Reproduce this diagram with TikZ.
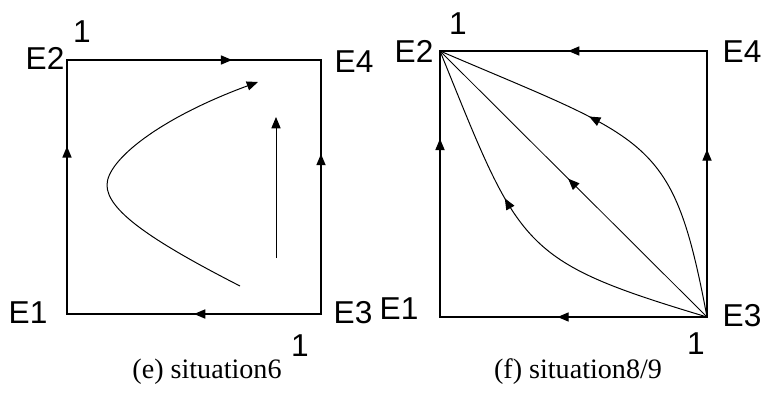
\documentclass[tikz,border=0pt]{standalone}
\usepackage{fontspec}
\setmainfont{Liberation Serif}
\newfontfamily\labelfont{Liberation Sans}
\usetikzlibrary{arrows.meta,decorations.markings}
\tikzset{
	edge/.style={line width=0.9pt, line cap=rect},
	flow/.style={line width=0.7pt},
	midarrow/.style={postaction={decorate}, decoration={markings, mark=at position #1 with {\arrow{Triangle[length=8pt,width=6.5pt]}}}},
	corner/.style={font=\labelfont\fontsize{22.5}{26}\selectfont, inner sep=0pt},
	caption/.style={font=\fontsize{20}{24}\selectfont, inner sep=0pt}
}
\begin{document}
\begin{tikzpicture}[x=0.025cm, y=-0.025cm]
	\useasboundingbox (0,0) rectangle (762,394);
	% (e) situation6
	\coordinate (a1) at (67,314);
	\coordinate (a2) at (67,60);
	\coordinate (a3) at (321,314);
	\coordinate (a4) at (321,60);
	\draw[edge, midarrow=0.66] (a1) -- (a2);
	\draw[edge, midarrow=0.65] (a2) -- (a4);
	\draw[edge, midarrow=0.63] (a3) -- (a4);
	\draw[edge, midarrow=0.5] (a3) -- (a1);
	\coordinate (hstart) at (240,286);
	\coordinate (hvertex) at (107,185);
	\coordinate (hend) at (258,82);
	\draw[flow, -{Triangle[length=8pt,width=6.5pt]}] (hstart) .. controls (150,240) and (107,210) .. (hvertex) .. controls (107,160) and (160,118) .. (hend);
	\coordinate (vlow) at (276,258);
	\coordinate (vhigh) at (276,117);
	\draw[flow, -{Triangle[length=8pt,width=6.5pt]}] (vlow) -- (vhigh);
	\node[corner] (a1lbl) at (28,313) {E1};
	\node[corner] (a2lbl) at (45,58) {E2};
	\node[corner] (a3lbl) at (353,313) {E3};
	\node[corner] (a4lbl) at (354,62) {E4};
	\node[corner] (a2one) at (82,32) {1};
	\node[corner] (a3one) at (300,346) {1};
	\node[caption] (acap) at (207,372) {(e) situation6};
	% (f) situation8/9
	\coordinate (b1) at (440,317);
	\coordinate (b2) at (440,51);
	\coordinate (b3) at (707,317);
	\coordinate (b4) at (707,51);
	\draw[edge, midarrow=0.67] (b1) -- (b2);
	\draw[edge, midarrow=0.52] (b4) -- (b2);
	\draw[edge, midarrow=0.63] (b3) -- (b4);
	\draw[edge, midarrow=0.56] (b3) -- (b1);
	\draw[flow, line width=0.6pt, midarrow=0.52] (b3) -- (b2);
	\draw[flow, midarrow=0.6] (b3) .. controls (672.7,135.6) and (651.6,141.7) .. (b2);
	\draw[flow, midarrow=0.6] (b3) .. controls (518.6,260.5) and (520.2,248.6) .. (b2);
	\node[corner] (b1lbl) at (399,309) {E1};
	\node[corner] (b2lbl) at (414,51) {E2};
	\node[corner] (b3lbl) at (742,316) {E3};
	\node[corner] (b4lbl) at (742,52) {E4};
	\node[corner] (b2one) at (458,24) {1};
	\node[corner] (b3one) at (696,344) {1};
	\node[caption] (bcap) at (578,372) {(f) situation8/9};
\end{tikzpicture}
\end{document}
